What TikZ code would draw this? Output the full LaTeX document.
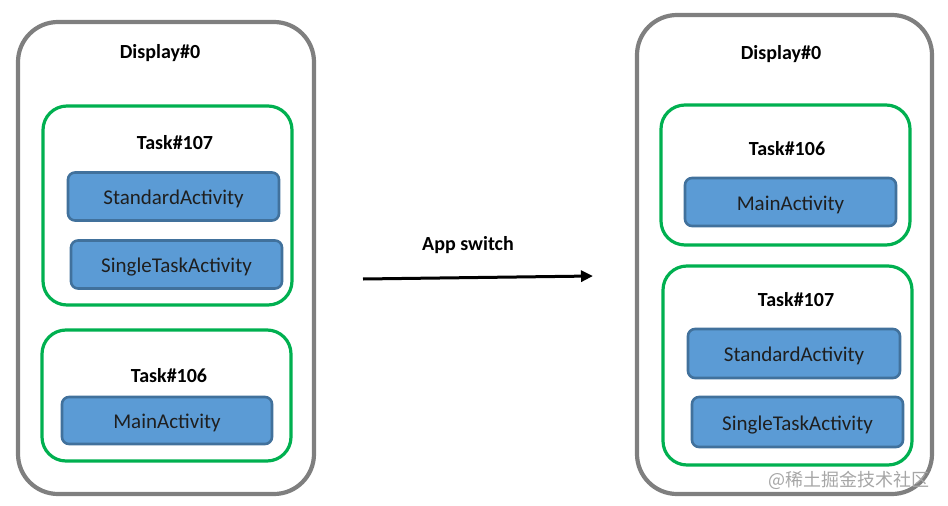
\documentclass[tikz,border=0pt]{standalone}
\usepackage{fontspec}
\usetikzlibrary{arrows.meta}
\setmainfont{Carlito}
\newfontfamily\cjk{Noto Sans CJK SC}
\definecolor{dispgray}{HTML}{7F7F7F}
\definecolor{taskgreen}{HTML}{00B050}
\definecolor{actfill}{HTML}{5B9BD5}
\definecolor{actdraw}{HTML}{41719C}
\tikzset{
  dispbox/.style={draw=dispgray, line width=4.2pt, rounded corners=40pt},
  taskbox/.style={draw=taskgreen, line width=3.2pt, rounded corners=24pt},
  actbox/.style={draw=actdraw, fill=actfill, line width=2.6pt, rounded corners=7pt,
     font=\fontsize{21}{23}\selectfont, text=black!88, text height=16pt, text depth=0pt},
  lbl/.style={font=\bfseries\fontsize{20}{22}\selectfont, text=black},
}
\begin{document}
\begin{tikzpicture}[x=1pt,y=-1pt]
\useasboundingbox (0,0) rectangle (948,506);
% left display
\draw[dispbox] (18,22) rectangle (314,494);
\node[lbl] (d1) at (160,53) {Display\#0};
\draw[taskbox] (43,106) rectangle (292,305);
\node[lbl] (t107a) at (175,143) {Task\#107};
\node[actbox, minimum width=211pt, minimum height=48pt] (sa1) at (173.5,196.5) {StandardActivity};
\node[actbox, minimum width=211pt, minimum height=48pt] (sta1) at (176.5,264.5) {SingleTaskActivity};
\draw[taskbox] (42,330) rectangle (291,461);
\node[lbl] (t106a) at (169,376) {Task\#106};
\node[actbox, minimum width=210pt, minimum height=47pt] (ma1) at (167,420.5) {MainActivity};
% arrow
\coordinate (as) at (363,279);
\coordinate (ae) at (593,276);
\draw[line width=3pt, -{Triangle[length=12pt,width=11pt]}] (as) -- (ae);
\node[lbl] (sw) at (468,245) {App switch};
% right display
\draw[dispbox] (637,15) rectangle (932,494);
\node[lbl] (d2) at (781,54) {Display\#0};
\draw[taskbox] (661,105) rectangle (910,245);
\node[lbl] (t106b) at (787,149) {Task\#106};
\node[actbox, minimum width=211pt, minimum height=48pt] (ma2) at (790.5,202) {MainActivity};
\draw[taskbox] (663,266) rectangle (912,465);
\node[lbl] (t107b) at (796,300) {Task\#107};
\node[actbox, minimum width=212pt, minimum height=49pt] (sa2) at (794,353.5) {StandardActivity};
\node[actbox, minimum width=211pt, minimum height=50pt] (sta2) at (797.5,422) {SingleTaskActivity};
\node[font=\cjk\fontsize{18}{20}\selectfont, text=black!35, anchor=east] (wm) at (933,480) {@稀土掘金技术社区};
\end{tikzpicture}
\end{document}
